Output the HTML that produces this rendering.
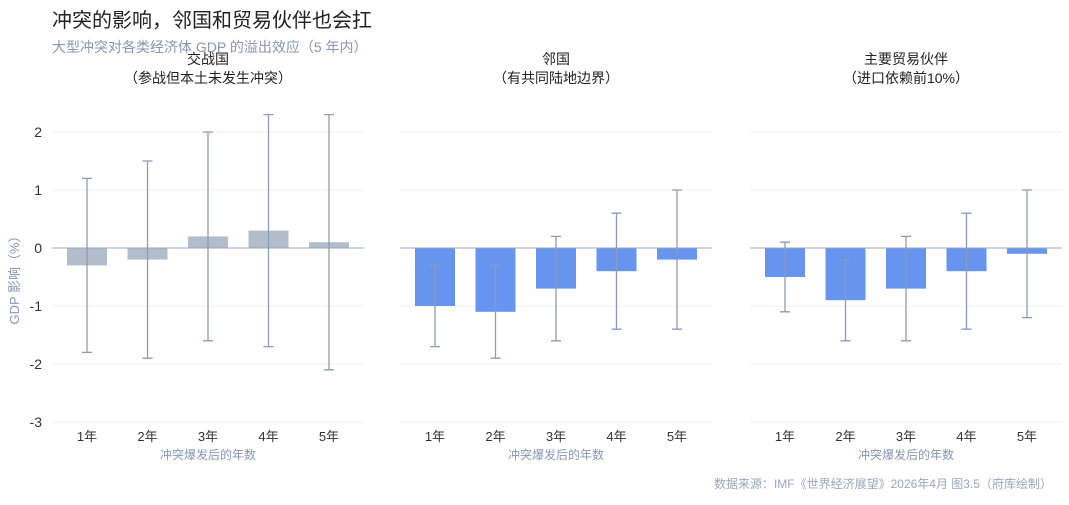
<!DOCTYPE html>
<html><head><meta charset="utf-8"><style>
body{margin:0;background:#fff;width:1069px;height:500px;overflow:hidden;font-family:"Liberation Sans","Noto Sans CJK SC",sans-serif}
svg text{font-family:"Liberation Sans","Noto Sans CJK SC",sans-serif}
</style></head><body>
<svg id="c" width="1069" height="500">
<text x="52" y="27" font-size="20" fill="#222">冲突的影响，邻国和贸易伙伴也会扛</text>
<text x="52" y="52" font-size="14" fill="#8796b3">大型冲突对各类经济体 GDP 的溢出效应（5 年内）</text>
<text x="1052" y="488" font-size="12" fill="#9aa6bd" text-anchor="end">数据来源：IMF《世界经济展望》2026年4月  图3.5（府库绘制）</text>
<text transform="translate(19,277) rotate(-90)" font-size="13" fill="#8796b3" text-anchor="middle">GDP 影响（%）</text>
</svg>
<script>
const categories=["1年","2年","3年","4年","5年"];
const panelTitles=[["交战国","（参战但本土未发生冲突）"],["邻国","（有共同陆地边界）"],["主要贸易伙伴","（进口依赖前10%）"]];
const values1=[-0.3,-0.2,0.2,0.3,0.1];
const lows1=[-1.8,-1.9,-1.6,-1.7,-2.1];
const highs1=[1.2,1.5,2.0,2.3,2.3];
const values2=[-1.0,-1.1,-0.7,-0.4,-0.2];
const lows2=[-1.7,-1.9,-1.6,-1.4,-1.4];
const highs2=[-0.3,-0.3,0.2,0.6,1.0];
const values3=[-0.5,-0.9,-0.7,-0.4,-0.1];
const lows3=[-1.1,-1.6,-1.6,-1.4,-1.2];
const highs3=[0.1,-0.2,0.2,0.6,1.0];
const yTicks=[2,1,0,-1,-2,-3];
const series=[[values1,lows1,highs1],[values2,lows2,highs2],[values3,lows3,highs3]];
const colors=["#b3bccb","#6694ee","#6694ee"];
const panelX=[52,400,750],panelW=312;
const y=v=>248-v*58;
const svg=document.getElementById('c');
const NS="http://www.w3.org/2000/svg";
function mk(t,a,p){const e=document.createElementNS(NS,t);for(const k in a)e.setAttribute(k,a[k]);(p||svg).appendChild(e);return e;}
yTicks.forEach(t=>{
  const tx=mk('text',{x:42,y:y(t)+5,'font-size':14,fill:'#333','text-anchor':'end'});tx.textContent=t;
  
  
});
series.forEach((s,p)=>{
  const g=mk('g',{});
  
  
  const x0=panelX[p],bw=60.5;
  const xc=i=>x0+35+bw*i;
  const mid=xc(2);
  panelTitles[p].forEach((l,k)=>{const t=mk('text',{x:mid,y:64+k*19,'font-size':14,fill:'#222','text-anchor':'middle'},g);t.textContent=l;
    
    });
  yTicks.forEach(t=>{if(t!==0){const l=mk('line',{x1:x0,x2:x0+panelW,y1:y(t),y2:y(t),stroke:'#eef0f4','stroke-width':1},g);
    
    }});
  s[0].forEach((v,i)=>{
    const b=mk('rect',{x:xc(i)-20,y:Math.min(y(v),y(0)),width:40,height:Math.abs(y(v)-y(0)),fill:colors[p]},g);
    
    
  });
  const z=mk('line',{x1:x0,x2:x0+panelW,y1:y(0),y2:y(0),stroke:'#9aa6bd','stroke-width':1},g);
  
  
  s[0].forEach((v,i)=>{
    const e=mk('path',{d:`M${xc(i)},${y(s[1][i])}V${y(s[2][i])}M${xc(i)-5},${y(s[1][i])}h10M${xc(i)-5},${y(s[2][i])}h10`,stroke:'#8d9bb5','stroke-width':1.3,fill:'none'},g);
    
    
    const t=mk('text',{x:xc(i),y:441,'font-size':13,fill:'#333','text-anchor':'middle'},g);t.textContent=categories[i];
    
    
  });
  const xt=mk('text',{x:mid,y:459,'font-size':12,fill:'#8796b3','text-anchor':'middle'},g);xt.textContent="冲突爆发后的年数";
  
  
});
</script>
</body></html>
